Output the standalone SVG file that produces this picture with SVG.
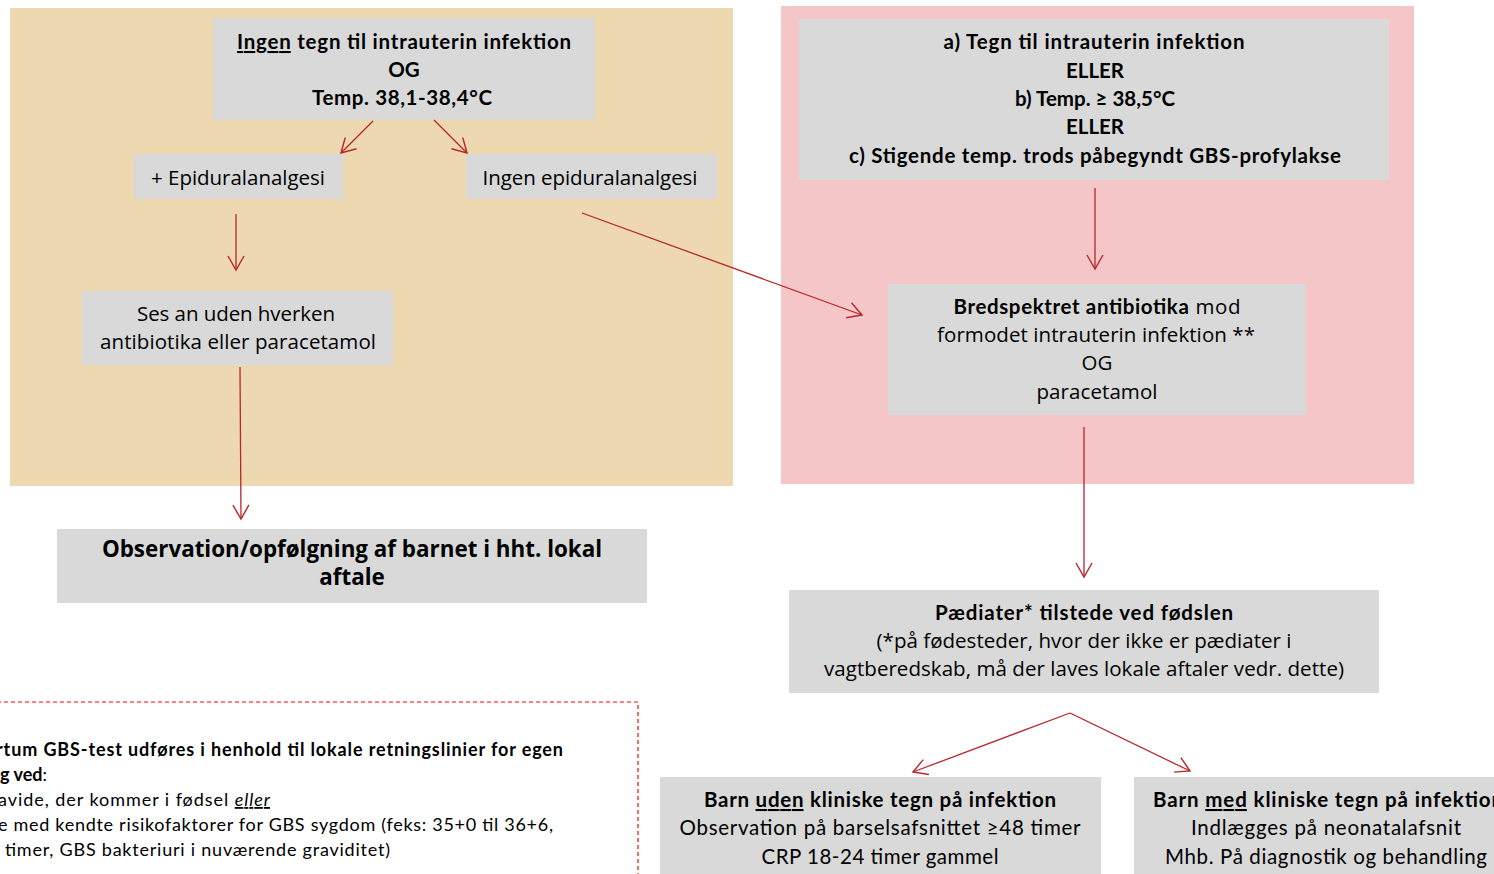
<svg xmlns="http://www.w3.org/2000/svg" width="1494" height="874" viewBox="0 0 1494 874">
  <defs>
    <marker id="vhead" markerUnits="userSpaceOnUse" markerWidth="30" markerHeight="30" refX="0" refY="0" viewBox="-15 -15 30 30" orient="auto" overflow="visible">
      <path d="M-14,-8 L0,0 L-14,8" fill="none" stroke="#B8262C" stroke-width="1.4"/>
    </marker>
    <style>
      .panel-tan { fill: #EED8AF; }
      .panel-pink { fill: #F4C6C8; }
      .box { fill: #D9D9D9; }
      .cal { font-family: Lato, "Liberation Sans", sans-serif; font-size: 20.5px; fill: #000; }
      .seg { font-family: "Open Sans", "Noto Sans", sans-serif; font-size: 20.5px; fill: #000; }
      .big { font-size: 22.4px; }
      .small { font-size: 18px; }
      .b { font-weight: bold; }
      .u { text-decoration: underline; }
      .link { fill: none; stroke: #B8262C; stroke-width: 1.3; marker-end: url(#vhead); }
      .note { fill: none; stroke: #FF0000; stroke-width: 1.2; stroke-dasharray: 4 3; }
    </style>
  </defs>

  <rect width="1494" height="874" fill="#FFFFFF"/>

  <!-- background panels -->
  <rect class="panel-tan" x="10" y="8" width="723" height="478"/>
  <rect class="panel-pink" x="781" y="6" width="633" height="478"/>

  <!-- left branch: no sign of intrauterine infection -->
  <g id="no-infection">
    <rect class="box" x="213" y="18" width="382" height="102"/>
    <text class="cal b" x="404" y="49" text-anchor="middle" textLength="334"><tspan class="u">Ingen</tspan> tegn til intrauterin infektion</text>
    <text class="cal b" x="404" y="77" text-anchor="middle">OG</text>
    <text class="cal b" x="402" y="105" text-anchor="middle" textLength="180">Temp. 38,1-38,4°C</text>
  </g>

  <g id="epidural">
    <rect class="box" x="134" y="154" width="209" height="45"/>
    <text class="seg" x="238" y="185" text-anchor="middle" textLength="174">+ Epiduralanalgesi</text>
  </g>

  <g id="no-epidural">
    <rect class="box" x="466" y="154" width="251" height="45"/>
    <text class="seg" x="590" y="185" text-anchor="middle" textLength="215">Ingen epiduralanalgesi</text>
  </g>

  <g id="wait-and-see">
    <rect class="box" x="82" y="291" width="311" height="74"/>
    <text class="seg" x="236" y="321" text-anchor="middle" textLength="198">Ses an uden hverken</text>
    <text class="seg" x="238" y="349" text-anchor="middle" textLength="276">antibiotika eller paracetamol</text>
  </g>

  <g id="observe-child">
    <rect class="box" x="57" y="529" width="590" height="74"/>
    <text class="seg big b" x="352" y="557" text-anchor="middle">Observation/opfølgning af barnet i hht. lokal</text>
    <text class="seg big b" x="352" y="585" text-anchor="middle">aftale</text>
  </g>

  <!-- right branch: signs of infection or high temperature -->
  <g id="infection-signs">
    <rect class="box" x="799" y="19" width="590" height="161"/>
    <text class="cal b" x="1094" y="49" text-anchor="middle" textLength="301">a) Tegn til intrauterin infektion</text>
    <text class="cal b" x="1095" y="78" text-anchor="middle">ELLER</text>
    <text class="cal b" x="1095" y="106" text-anchor="middle" textLength="160">b) Temp. ≥ 38,5°C</text>
    <text class="cal b" x="1095" y="134" text-anchor="middle">ELLER</text>
    <text class="cal b" x="1095" y="163" text-anchor="middle" textLength="492">c) Stigende temp. trods påbegyndt GBS-profylakse</text>
  </g>

  <g id="antibiotics">
    <rect class="box" x="888" y="284" width="418" height="131"/>
    <text class="cal" x="1097" y="314" text-anchor="middle" textLength="287"><tspan class="b">Bredspektret antibiotika</tspan><tspan font-family="Open Sans, Noto Sans, sans-serif"> mod</tspan></text>
    <text class="seg" x="1096" y="342" text-anchor="middle" textLength="318">formodet intrauterin infektion **</text>
    <text class="seg" x="1097" y="370" text-anchor="middle">OG</text>
    <text class="seg" x="1097" y="399" text-anchor="middle" textLength="121">paracetamol</text>
  </g>

  <g id="paediatrician">
    <rect class="box" x="789" y="590" width="590" height="103"/>
    <text class="cal b" x="1084" y="620" text-anchor="middle" textLength="298">Pædiater* tilstede ved fødslen</text>
    <text class="seg" x="1084" y="648" text-anchor="middle" textLength="415">(*på fødesteder, hvor der ikke er pædiater i</text>
    <text class="seg" x="1084" y="676" text-anchor="middle" textLength="520">vagtberedskab, må der laves lokale aftaler vedr. dette)</text>
  </g>

  <g id="child-without-signs">
    <rect class="box" x="660" y="777" width="441" height="97"/>
    <text class="cal" x="880" y="807" text-anchor="middle" textLength="352"><tspan class="b">Barn </tspan><tspan class="b u">uden</tspan><tspan class="b"> kliniske tegn på infektion</tspan></text>
    <text class="cal" x="880" y="835" text-anchor="middle" textLength="401">Observation på barselsafsnittet  ≥48 timer</text>
    <text class="cal" x="880" y="864" text-anchor="middle" textLength="237">CRP 18-24 timer gammel</text>
  </g>

  <g id="child-with-signs">
    <rect class="box" x="1134" y="777" width="362" height="97"/>
    <text class="cal" x="1153" y="807" textLength="350"><tspan class="b">Barn </tspan><tspan class="b u">med</tspan><tspan class="b"> kliniske tegn på infektion</tspan></text>
    <text class="cal" x="1326" y="835" text-anchor="middle" textLength="270">Indlægges på neonatalafsnit</text>
    <text class="cal" x="1326" y="864" text-anchor="middle" textLength="322">Mhb. På diagnostik og behandling</text>
  </g>

  <!-- footnote frame -->
  <g id="gbs-note">
    <rect class="note" x="-10" y="702" width="648" height="200"/>
    <text class="cal small" x="563" y="756" text-anchor="end" textLength="567"><tspan class="b">rtum GBS-test udføres i henhold til lokale retningslinier for egen</tspan></text>
    <text class="cal small" x="47" y="781" text-anchor="end"><tspan class="b">g ved</tspan>:</text>
    <text class="cal small" x="270" y="806" text-anchor="end" textLength="272">avide, der kommer i fødsel <tspan font-style="italic" class="u">eller</tspan></text>
    <text class="cal small" x="553" y="831" text-anchor="end" textLength="555">e med kendte risikofaktorer for GBS sygdom (feks: 35+0 til 36+6,</text>
    <text class="cal small" x="5" y="856" textLength="385">timer, GBS bakteriuri i nuværende graviditet)</text>
  </g>

  <!-- connectors -->
  <g id="connectors">
    <line class="link" x1="373" y1="121" x2="341" y2="153"/>
    <line class="link" x1="434" y1="120" x2="467" y2="153"/>
    <line class="link" x1="236" y1="214" x2="236" y2="270"/>
    <line class="link" x1="240" y1="367" x2="241" y2="519"/>
    <line class="link" x1="582" y1="213" x2="862" y2="315"/>
    <line class="link" x1="1095" y1="188" x2="1095" y2="269"/>
    <line class="link" x1="1084" y1="427" x2="1084" y2="577"/>
    <line class="link" x1="1070" y1="713" x2="913" y2="772"/>
    <line class="link" x1="1070" y1="713" x2="1190" y2="771"/>
  </g>
</svg>
